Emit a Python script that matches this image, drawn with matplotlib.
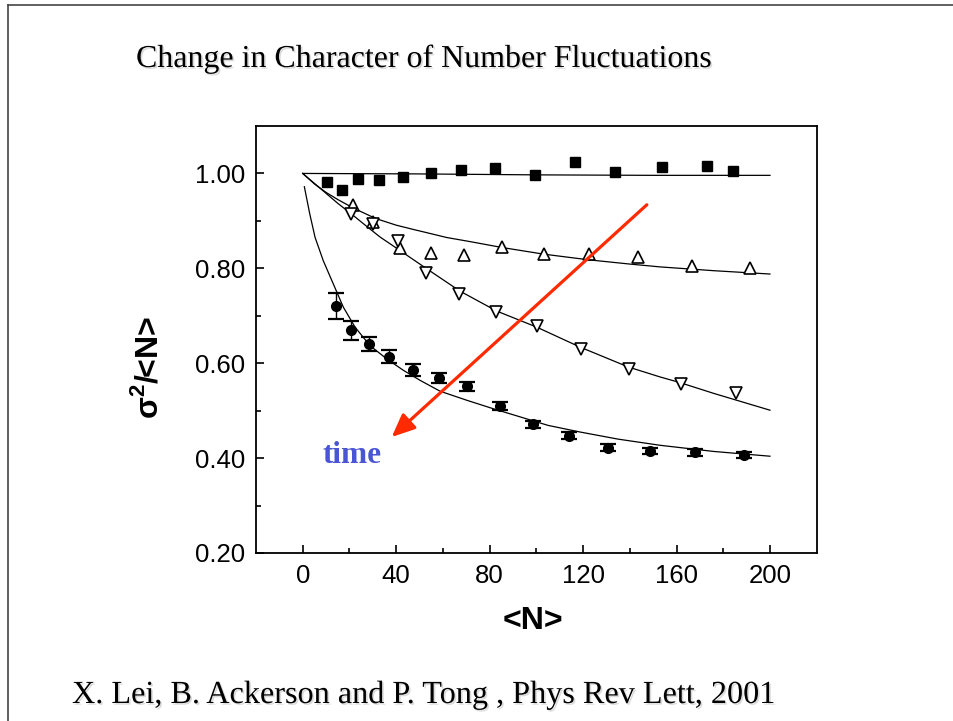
import matplotlib
matplotlib.use("Agg")
import matplotlib.pyplot as plt
import matplotlib.patheffects as pe
from matplotlib.lines import Line2D

plt.rcParams["mathtext.fontset"] = "custom"
plt.rcParams["mathtext.rm"] = "Liberation Sans"
plt.rcParams["mathtext.bf"] = "Liberation Sans:bold"

# ---------------- data ----------------
sq_n = [10.3, 16.9, 23.8, 32.8, 43.0, 54.8, 67.8, 82.1, 99.3, 116.6, 133.7, 153.6, 173.0, 184.0]
sq_v = [0.983, 0.966, 0.989, 0.986, 0.993, 1.001, 1.007, 1.012, 0.996, 1.024, 1.002, 1.014, 1.016, 1.005]

up_n = [21.5, 30.2, 41.7, 55.0, 69.2, 85.4, 103.1, 122.4, 143.5, 166.7, 191.5]
up_v = [0.934, 0.897, 0.843, 0.832, 0.829, 0.846, 0.830, 0.831, 0.824, 0.804, 0.800]

dn_n = [20.7, 30.2, 40.6, 52.8, 66.9, 82.6, 100.2, 119.2, 139.5, 162.1, 185.4]
dn_v = [0.914, 0.894, 0.857, 0.791, 0.745, 0.709, 0.678, 0.630, 0.587, 0.557, 0.537]

ci_n = [14.2, 20.8, 28.4, 37.1, 47.3, 58.5, 70.5, 84.4, 98.7, 114.0, 130.8, 148.7, 167.8, 188.7]
ci_v = [0.721, 0.669, 0.641, 0.614, 0.586, 0.569, 0.551, 0.510, 0.471, 0.447, 0.422, 0.415, 0.412, 0.406]
ci_err = [0.028, 0.019, 0.015, 0.014, 0.012, 0.010, 0.009, 0.009, 0.008, 0.007, 0.007, 0.007, 0.007, 0.006]

# fitted curves
sq_fit_n = [0, 50, 100, 150, 200]
sq_fit_v = [1.000, 0.999, 0.997, 0.996, 0.996]

up_fit_n = [0, 5, 10, 15, 21.7, 29.5, 33.1, 40, 47.3, 52.4, 61.6, 72, 85.2, 103, 122.3, 140, 153, 176, 200]
up_fit_v = [1.000, 0.978, 0.960, 0.945, 0.927, 0.909, 0.902, 0.891, 0.882, 0.876, 0.865, 0.856, 0.844,
            0.830, 0.818, 0.809, 0.803, 0.795, 0.788]

dn_fit_n = [0, 5, 10, 15, 21, 27, 33.1, 40.9, 53.1, 67.3, 83, 100.2, 118.7, 139.4, 153, 160.9, 176.2, 200]
dn_fit_v = [1.000, 0.979, 0.958, 0.937, 0.914, 0.890, 0.866, 0.840, 0.799, 0.752, 0.710, 0.676, 0.634,
            0.592, 0.571, 0.560, 0.536, 0.501]

ci_fit_n = [0.7, 3, 5.3, 8.8, 13.1, 17.4, 22.4, 28.8, 36.0, 43.1, 50.2, 58.8, 70.2, 81.6, 93, 105,
            118.7, 135, 153, 176, 200]
ci_fit_v = [0.972, 0.915, 0.865, 0.816, 0.767, 0.718, 0.676, 0.637, 0.609, 0.585, 0.564, 0.541, 0.522,
            0.504, 0.487, 0.469, 0.455, 0.440, 0.427, 0.414, 0.404]

x_ticks = [0, 40, 80, 120, 160, 200]
y_ticks = [0.20, 0.40, 0.60, 0.80, 1.00]

title_text = "Change in Character of Number Fluctuations"
cite_text = "X. Lei, B. Ackerson and P. Tong , Phys Rev Lett, 2001"

# ---------------- figure ----------------
W, H = 954, 721
fig = plt.figure(figsize=(W / 100, H / 100), dpi=100)
fig.patch.set_facecolor("white")

ax = fig.add_axes([256 / W, 1 - 553 / H, (816.7 - 256) / W, (553 - 126) / H])
ax.set_xlim(-20, 220)
ax.set_ylim(0.20, 1.10)

line_kw = dict(color="black", lw=0.9, zorder=2)
ax.plot(sq_fit_n, sq_fit_v, **line_kw)
ax.plot(up_fit_n, up_fit_v, **line_kw)
ax.plot(dn_fit_n, dn_fit_v, **line_kw)
ax.plot(ci_fit_n, ci_fit_v, **line_kw)

ax.plot(sq_n, sq_v, ls="none", marker="s", ms=7.2, mfc="black", mec="black", zorder=3)
ax.plot(up_n, up_v, ls="none", marker="^", ms=8, mfc="white", mec="black", mew=1.2, zorder=3)
ax.plot(dn_n, dn_v, ls="none", marker="v", ms=8, mfc="white", mec="black", mew=1.2, zorder=3)
ax.errorbar(ci_n, ci_v, yerr=ci_err, fmt="o", ms=7, mfc="black", mec="black", ecolor="black",
            elinewidth=1.0, capsize=5.5, capthick=1.6, zorder=3)

ax.set_xticks(x_ticks)
ax.set_xticklabels([str(t) for t in x_ticks])
ax.set_yticks(y_ticks)
ax.set_yticklabels([f"{t:.2f}" for t in y_ticks])
ax.set_xticks([20, 60, 100, 140, 180], minor=True)
ax.set_yticks([0.3, 0.5, 0.7, 0.9], minor=True)

tick_font = "Liberation Sans"
ax.tick_params(axis="both", which="major", direction="in", length=6, width=1.2,
               labelsize=18.5, pad=8)
ax.tick_params(axis="both", which="minor", direction="in", length=3.5, width=1.2)
for lab in ax.get_xticklabels() + ax.get_yticklabels():
    lab.set_fontfamily(tick_font)
for s in ax.spines.values():
    s.set_linewidth(1.3)

ax.set_xlabel("<N>", fontsize=23, fontweight="bold", fontfamily=tick_font)
ax.xaxis.set_label_coords((533 - 256) / 560.7, (553 - 621) / 427)
ax.xaxis.label.set_verticalalignment("center")
ax.set_ylabel(r"σ$^{\mathbf{2}}$/<N>", fontsize=23, fontweight="bold", fontfamily=tick_font)
ax.yaxis.set_label_coords((148 - 256) / 560.7, (553 - 368) / 427)
ax.yaxis.label.set_verticalalignment("center")

# red arrow and "time"
ax.annotate("", xy=(38.1, 0.4445), xytext=(147.3, 0.934), xycoords="data", textcoords="data",
            arrowprops=dict(arrowstyle="-|>,head_length=0.5,head_width=0.22", mutation_scale=28,
                            color="#ff2a00", lw=2.3, shrinkA=0, shrinkB=0), zorder=5)
ax.text(20.9, 0.405, "time", ha="center", va="center", fontsize=22.5, fontweight="bold",
        fontfamily="Liberation Serif", color="#4a55d6", zorder=6)

shadow = [pe.withSimplePatchShadow(offset=(1.2, -1.2), shadow_rgbFace="#999999", alpha=0.35)]
fig.text(136 / W, 1 - 67 / H, title_text, ha="left", va="baseline", fontsize=23,
         fontfamily="Liberation Serif", color="black", path_effects=shadow)
fig.text(72 / W, 1 - 703 / H, cite_text, ha="left", va="baseline", fontsize=23.2,
         fontfamily="Liberation Serif", color="black", path_effects=shadow)

# slide frame lines
fig.add_artist(Line2D([8 / W, 8 / W], [1 - 5 / H, 0], transform=fig.transFigure, color="#444444", lw=1.2))
fig.add_artist(Line2D([8 / W, 1], [1 - 5 / H, 1 - 5 / H], transform=fig.transFigure, color="#444444", lw=1.2))

fig.savefig("out.png", dpi=100, facecolor="white")
